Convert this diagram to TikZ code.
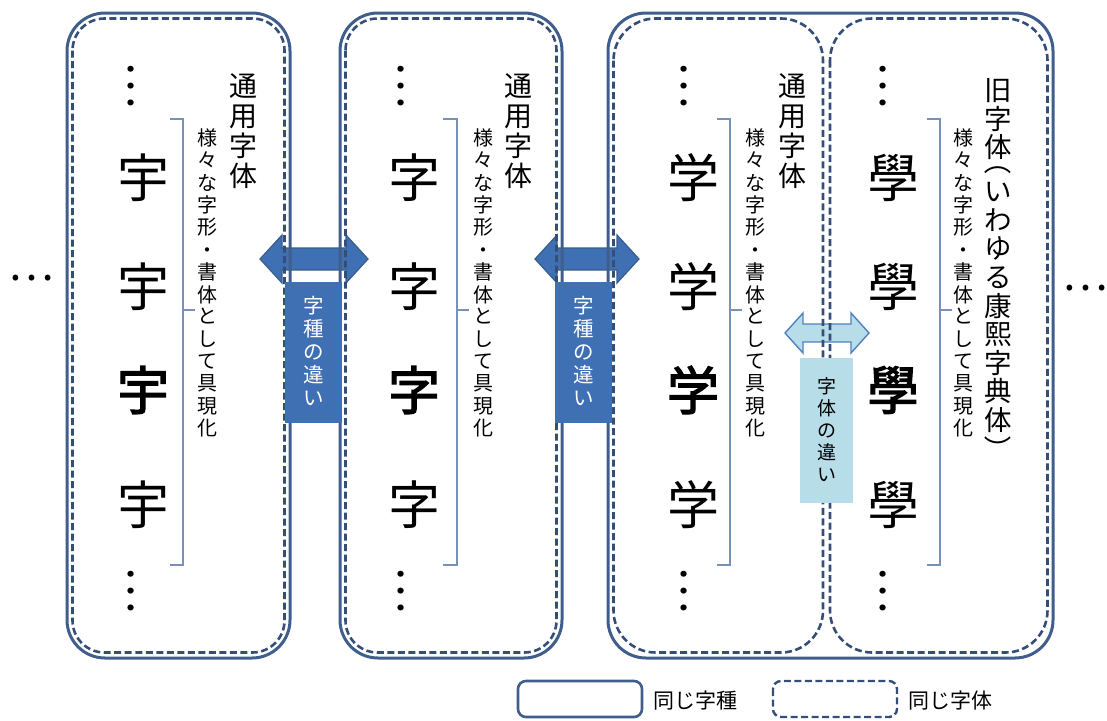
\documentclass[tikz,border=0pt]{standalone}
\usepackage{fontspec}
\newfontfamily\jp{Noto Sans CJK JP}
\newfontfamily\jpb[FakeBold=2.5]{Noto Sans CJK JP}
\makeatletter
\newdimen\vt@pitch
\newcommand\vtext[2]{\vbox{\offinterlineskip\vt@pitch=#1\relax\vt@loop#2\@nil}}
\def\vt@loop#1{\ifx#1\@nil\else\vt@one{#1}\expandafter\vt@loop\fi}
\def\vt@one#1{\vbox to \vt@pitch{\vss\hbox to 1em{\hss\vphantom{国}#1\hss}\vss}}
\makeatother
\definecolor{boxline}{RGB}{64,94,140}
\definecolor{dashline}{RGB}{52,78,120}
\definecolor{dkfill}{RGB}{64,112,180}
\definecolor{dkline}{RGB}{56,93,138}
\definecolor{ltfill}{RGB}{183,221,232}
\definecolor{ltline}{RGB}{79,129,189}
\definecolor{brk}{RGB}{120,145,185}
\tikzset{
  solidbox/.style={draw=boxline, line width=3pt, rounded corners=38pt},
  dashbox/.style={draw=dashline, line width=2.6pt, dash pattern=on 7pt off 3.5pt, rounded corners=32pt},
  dashboxm/.style={dashbox, rounded corners=42pt},
  dkarrow/.style={fill=dkfill, draw=dkline, line width=1.2pt, line join=miter},
  ltarrow/.style={fill=ltfill, draw=ltline, line width=1.4pt, line join=miter},
  dklab/.style={fill=dkfill, inner sep=0pt, minimum width=57pt, minimum height=141pt, text=white, font=\jp\fontsize{20.5}{23}\selectfont},
  ltlab/.style={fill=ltfill, inner sep=0pt, minimum width=53pt, minimum height=145pt, text=black, font=\jp\fontsize{19}{22}\selectfont},
  bigch/.style={inner sep=0pt, font=\jp\fontsize{52}{56}\selectfont},
  bigchb/.style={inner sep=0pt, font=\jpb\fontsize{52}{56}\selectfont},
  vdots/.style={inner sep=0pt, rotate=-90, font=\jp\fontsize{45}{48}\selectfont},
  title/.style={inner sep=0pt, anchor=north, font=\jp\fontsize{28}{30}\selectfont},
  titleb/.style={inner sep=0pt, anchor=north, font=\jp\fontsize{27.5}{30}\selectfont},
  paren/.style={inner sep=0pt, font=\jp\fontsize{27.5}{30}\selectfont},
  small/.style={inner sep=0pt, anchor=north, font=\jp\fontsize{20}{22.3}\selectfont},
  brack/.style={draw=brk, line width=1.2pt},
  sidedots/.style={inner sep=0pt, font=\jp\fontsize{43}{46}\selectfont},
  legtext/.style={inner sep=0pt, anchor=west, font=\jp\fontsize{21}{24}\selectfont}
}
\begin{document}
\begin{tikzpicture}[x=1pt,y=-1pt]
\useasboundingbox (0,0) rectangle (1107,720);

% block arrows
\draw[dkarrow] (260,259) -- (282,235) -- (282,248) -- (346,248) -- (346,235) -- (368,259)
  -- (346,283) -- (346,270) -- (282,270) -- (282,283) -- cycle;
\draw[dkarrow] (535,259) -- (557,235) -- (557,248) -- (617,248) -- (617,235) -- (639,259)
  -- (617,283) -- (617,270) -- (557,270) -- (557,283) -- cycle;
\draw[ltarrow] (785,333) -- (803,313) -- (803,324) -- (851,324) -- (851,313) -- (869,333)
  -- (851,353) -- (851,342) -- (803,342) -- (803,353) -- cycle;

% boxes
\draw[solidbox] (67,13) rectangle (290,658);
\draw[dashbox] (72.5,18.5) rectangle (284.5,652.5);
\draw[solidbox] (340,13) rectangle (562,658);
\draw[dashbox] (345.5,18.5) rectangle (556.5,652.5);
\draw[solidbox] (608,13) rectangle (1053,658);
\draw[dashboxm] (613.5,18.5) rectangle (823,652.5);
\draw[dashboxm] (830,18.5) rectangle (1047.5,652.5);

% labels
\node[dklab] (k1) at (313.5,352) {\vtext{23pt}{字種の違い}};
\node[dklab] (k2) at (583.5,352) {\vtext{23pt}{字種の違い}};
\node[ltlab] (k3) at (826.5,430.5) {\vtext{22pt}{字体の違い}};

% side ellipses
\node[sidedots] (el) at (31,265) {\vphantom{国}…};
\node[sidedots] (er) at (1085,275) {\vphantom{国}…};

% column 1
\node[vdots] (d1t) at (145,85) {\vphantom{国}…};
\node[vdots] (d1b) at (145,590) {\vphantom{国}…};
\node[bigch] (c1a) at (143,178) {宇};
\node[bigch] (c1b) at (143,287) {宇};
\node[bigchb] (c1c) at (143,390) {宇};
\node[bigch] (c1d) at (143,505) {宇};
\draw[brack] (170,119) -- (183,119) -- (183,565) -- (170,565);
\draw[brack] (183,310) -- (195,310);
\node[small] (s1) at (207,127) {\vtext{22.3pt}{様々な字形・書体として具現化}};
\node[title] (t1) at (243,71) {\vtext{30pt}{通用字体}};

% column 2
\node[vdots] (d2t) at (415,85) {\vphantom{国}…};
\node[vdots] (d2b) at (415,590) {\vphantom{国}…};
\node[bigch] (c2a) at (414,178) {字};
\node[bigch] (c2b) at (414,287) {字};
\node[bigchb] (c2c) at (414,390) {字};
\node[bigch] (c2d) at (414,505) {字};
\draw[brack] (443,119) -- (457,119) -- (457,565) -- (443,565);
\draw[brack] (457,310) -- (469,310);
\node[small] (s2) at (483,127) {\vtext{22.3pt}{様々な字形・書体として具現化}};
\node[title] (t2) at (518,71) {\vtext{30pt}{通用字体}};

% column 3
\node[vdots] (d3t) at (698,85) {\vphantom{国}…};
\node[vdots] (d3b) at (698,590) {\vphantom{国}…};
\node[bigch] (c3a) at (693,178) {学};
\node[bigch] (c3b) at (693,287) {学};
\node[bigchb] (c3c) at (693,390) {学};
\node[bigch] (c3d) at (693,505) {学};
\draw[brack] (717,119) -- (730,119) -- (730,565) -- (717,565);
\draw[brack] (730,310) -- (742,310);
\node[small] (s3) at (755,127) {\vtext{22.3pt}{様々な字形・書体として具現化}};
\node[title] (t3) at (792,71) {\vtext{30pt}{通用字体}};

% column 4
\node[vdots] (d4t) at (897,85) {\vphantom{国}…};
\node[vdots] (d4b) at (897,590) {\vphantom{国}…};
\node[bigch] (c4a) at (893,178) {學};
\node[bigch] (c4b) at (893,287) {學};
\node[bigchb] (c4c) at (893,390) {學};
\node[bigch] (c4d) at (893,505) {學};
\draw[brack] (927,119) -- (940,119) -- (940,565) -- (927,565);
\draw[brack] (940,310) -- (952,310);
\node[small] (s4) at (963,127) {\vtext{22.3pt}{様々な字形・書体として具現化}};
\node[titleb] (t4a) at (998,76) {\vtext{28.5pt}{旧字体}};
\node[paren] (t4p) at (998,161) {\rotatebox[origin=c]{-90}{（}};
\node[titleb] (t4b) at (998,177.5) {\vtext{28.5pt}{いわゆる康熙字典体}};
\node[paren] (t4q) at (998,449) {\rotatebox[origin=c]{-90}{）}};

% legend
\draw[draw=boxline, line width=2.6pt, rounded corners=8pt] (518,681) rectangle (642,717);
\node[legtext] (lg1) at (653,701) {同じ字種};
\draw[draw=dashline, line width=2.4pt, dash pattern=on 7pt off 3.5pt, rounded corners=8pt] (773,681) rectangle (897,717);
\node[legtext] (lg2) at (908,701) {同じ字体};
\end{tikzpicture}
\end{document}
